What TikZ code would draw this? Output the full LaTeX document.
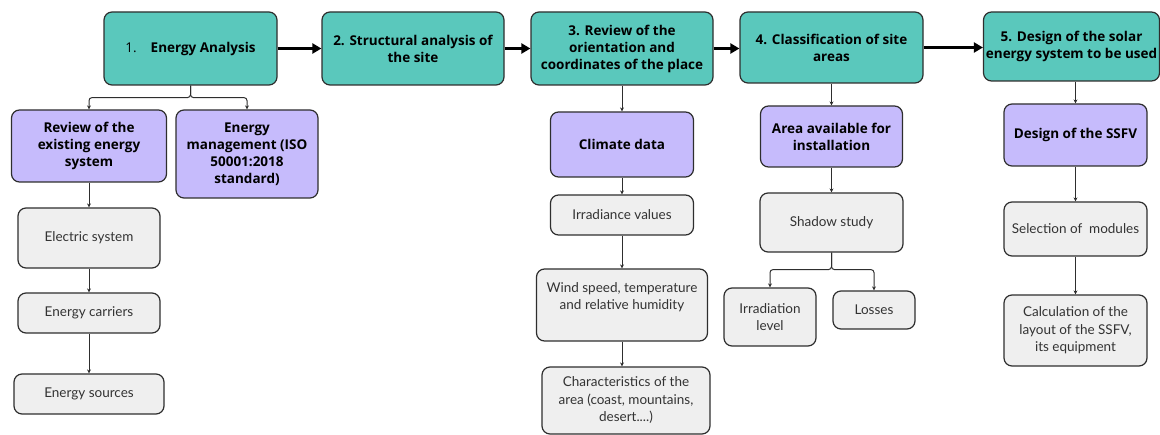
\documentclass[tikz,border=0pt]{standalone}
\usepackage{fontspec}
\setmainfont{Lato}
\newfontfamily\headfont{Open Sans}
\usetikzlibrary{arrows.meta}
\definecolor{stageteal}{HTML}{5AC8BC}
\definecolor{subpurple}{HTML}{C6BBFC}
\definecolor{itemgray}{HTML}{EFEFEF}
\definecolor{edgegray}{HTML}{2E2E2E}

\begin{document}
\begin{tikzpicture}
  [x=1pt,y=-1pt,
   box/.style={draw=edgegray,line width=1.2pt,rounded corners=8pt,align=center,inner sep=2pt},
   stage/.style={box,fill=stageteal,font=\headfont\fontsize{13.5}{17}\selectfont\bfseries},
   sub/.style={box,fill=subpurple,font=\headfont\fontsize{13.5}{17}\selectfont\bfseries},
   item/.style={box,fill=itemgray,text=black!80,font=\fontsize{13.5}{17.5}\selectfont},
   flow/.style={-{Triangle[length=9pt,width=10pt]},line width=3pt},
   link/.style={-{Stealth[length=4pt,width=4pt]},line width=1pt,draw=edgegray}]
  \useasboundingbox (0,0) rectangle (1160,435);

  % main steps
  \node (s1)[stage,minimum width=173pt,minimum height=73pt] at (190.5,48.5) {{\mdseries 1.}\hspace{14pt}Energy Analysis};
  \node (s2)[stage,minimum width=182pt,minimum height=73pt] at (413,48.5) {2. Structural analysis of\\the site};
  \node (s3)[stage,minimum width=182pt,minimum height=73pt] at (622,48.5) {3. Review of the\\orientation and\\coordinates of the place};
  \node (s4)[stage,minimum width=183pt,minimum height=71pt] at (831.5,47.5) {4. Classification of site\\areas};
  \node (s5)[stage,minimum width=176pt,minimum height=69pt] at (1071.5,46.5) {5. Design of the solar\\energy system to be used};

  % column 1
  \node (p1)[sub,minimum width=155pt,minimum height=72pt] at (89,146) {Review of the\\existing energy\\system};
  \node (p2)[sub,minimum width=142pt,minimum height=88pt] at (247,154) {Energy\\management (ISO\\50001:2018\\standard)};
  \node (e1)[item,minimum width=142pt,minimum height=60pt] at (89,238) {Electric system};
  \node (e2)[item,minimum width=142pt,minimum height=40pt] at (89,313) {Energy carriers};
  \node (e3)[item,minimum width=150pt,minimum height=40pt] at (89,394) {Energy sources};

  % column 3
  \node (cl)[sub,minimum width=143pt,minimum height=65pt] at (622,144.5) {Climate data};
  \node (irr)[item,minimum width=143pt,minimum height=40pt] at (622,215) {Irradiance values};
  \node (wind)[item,minimum width=171pt,minimum height=72pt] at (622,305) {Wind speed, temperature\\and relative humidity\\~};
  \node (char)[item,minimum width=168pt,minimum height=67pt] at (626,400.5) {Characteristics of the\\area (coast, mountains,\\desert....)};

  % column 4
  \node (area)[sub,minimum width=142pt,minimum height=61pt] at (831.5,136.5) {Area available for\\installation};
  \node (shadow)[item,minimum width=143pt,minimum height=59pt] at (831.5,222.5) {Shadow study};
  \node (irlev)[item,minimum width=92pt,minimum height=58pt] at (770,317) {Irradiation\\level};
  \node (loss)[item,minimum width=82pt,minimum height=38pt] at (874,310) {Losses};

  % column 5
  \node (design)[sub,minimum width=143pt,minimum height=62pt] at (1075.5,135) {Design of the SSFV};
  \node (select)[item,minimum width=143pt,minimum height=54pt] at (1075.5,229) {Selection of\ \ modules};
  \node (calc)[item,minimum width=143pt,minimum height=71pt] at (1075.5,330.5) {Calculation of the\\layout of the SSFV,\\its equipment};

  \foreach \from/\to in {s1/s2,s2/s3,s3/s4,s4/s5}
    \draw[flow] (\from.east) -- (\from.east -| \to.west);

  \foreach \from/\to in {p1/e1,e1/e2,e2/e3,s3/cl,cl/irr,irr/wind,s4/area,area/shadow,design/select,select/calc}
    \draw[link] (\from) -- (\to);
  \draw[link] (wind.south) -- (wind.south |- char.north);
  \draw[link] (design |- s5.south) -- (design);

  \draw[link,rounded corners=3pt] (s1.south) -- ++(0,12) -| (p1.north);
  \draw[link,rounded corners=3pt] (s1.south) -- ++(0,12) -| (p2.north);
  \draw[link,rounded corners=3pt] (shadow.south) -- ++(0,17) -| (irlev.north);
  \draw[link,rounded corners=3pt] (shadow.south) -- ++(0,17) -| (loss.north);

\end{tikzpicture}
\end{document}
